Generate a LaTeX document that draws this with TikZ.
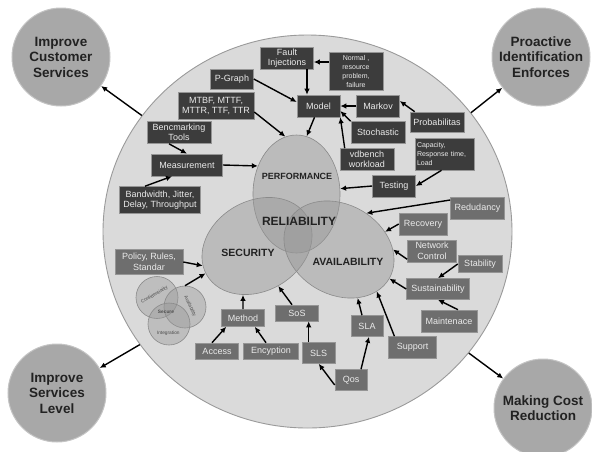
\documentclass[tikz,border=0pt]{standalone}
\usepackage{fontspec}
\setmainfont{Liberation Sans}
\usetikzlibrary{arrows.meta,shapes.geometric}
\definecolor{bgfill}{HTML}{DADADA}
\definecolor{bgedge}{HTML}{9A9A9A}
\definecolor{cornerfill}{HTML}{A8A8A8}
\definecolor{corneredge}{HTML}{C4C4C4}
\definecolor{vennfill}{HTML}{969696}
\definecolor{vennedge}{HTML}{8A8A8A}
\definecolor{darkbox}{HTML}{3C3C3C}
\definecolor{midbox}{HTML}{6E6E6E}
\definecolor{boxedge}{HTML}{959595}
\definecolor{boxtext}{HTML}{EBEBEB}
\definecolor{labeltext}{HTML}{222222}
\begin{document}
\begin{tikzpicture}[x=1pt,y=-1pt,
  corner/.style={circle,minimum size=98pt,inner sep=0pt,fill=cornerfill,draw=corneredge,line width=1pt,
     text=labeltext,align=center,font=\fontsize{13.5}{15.5}\selectfont\bfseries},
  vennell/.style={ellipse,inner sep=0pt,fill=vennfill,fill opacity=0.45,draw=vennedge,line width=0.6pt},
  smallvenn/.style={circle,minimum size=42pt,inner sep=0pt,fill=vennfill,fill opacity=0.4,draw=vennedge,line width=0.6pt},
  vlabel/.style={text=labeltext,font=\fontsize{#1}{#1}\selectfont\bfseries,inner sep=0pt},
  tinylabel/.style={text=labeltext!80,font=\fontsize{4.8}{4.8}\selectfont,inner sep=0pt},
  dbox/.style={draw=boxedge,line width=0.6pt,fill=darkbox,text=boxtext,inner sep=0pt,align=center,
     font=\fontsize{9}{10.5}\selectfont},
  mbox/.style={dbox,fill=midbox},
  smalltext/.style={font=\fontsize{7}{9}\selectfont},
  arr/.style={draw=black,line width=1.4pt,-{Latex[length=6pt,width=5.5pt]}}
]
\useasboundingbox (0,0) rectangle (592,451);

% big circle
\node[ellipse,minimum width=409pt,minimum height=393pt,inner sep=0pt,fill=bgfill,draw=bgedge,line width=0.9pt] (big) at (307.5,231.5) {};

% corner circles
\node[corner] (ics) at (61,57) {Improve\\Customer\\Services};
\node[corner] (pie) at (541,57) {Proactive\\Identification\\Enforces};
\node[corner] (isl) at (57,393) {Improve\\Services\\Level};
\node[corner] (mcr) at (543,408) {Making Cost\\Reduction};

% venn ellipses
\node[vennell,minimum width=87pt,minimum height=118pt] (perf) at (296.5,194) {};
\node[vennell,minimum width=116pt,minimum height=90pt,rotate=30] (sec) at (257,246) {};
\node[vennell,minimum width=116pt,minimum height=90pt,rotate=-30] (avail) at (339,249.5) {};

\node[vlabel=9] (lperf) at (297,176) {PERFORMANCE};
\node[vlabel=12] (lrel) at (299,221) {RELIABILITY};
\node[vlabel=10.5] (lsec) at (248,253) {SECURITY};
\node[vlabel=10.5] (lavail) at (348,262) {AVAILABILITY};

% small venn (secure)
\node[smallvenn] (cconf) at (157,297.5) {};
\node[smallvenn] (cavail) at (185,307) {};
\node[smallvenn] (cint) at (169,324) {};
\node[tinylabel,rotate=30] (tconf) at (154.5,295) {Confidentiality};
\node[tinylabel,rotate=-65] (tavail) at (190,306) {Availability};
\node[tinylabel,font=\fontsize{4.8}{4.8}\selectfont\bfseries] (tsecure) at (166,311.5) {Secure};
\node[tinylabel] (tint) at (168.3,333) {Integration};

% dark boxes
\node[dbox,minimum width=53pt,minimum height=22pt] (fault) at (287,58) {Fault\\Injections};
\node[dbox,smalltext,minimum width=54pt,minimum height=38pt] (normal) at (356,71) {Normal ,\\resource\\problem,\\failure};
\node[dbox,minimum width=43pt,minimum height=20pt] (pgraph) at (232,79) {P-Graph};
\node[dbox,minimum width=76pt,minimum height=27pt] (mtbf) at (216,106) {MTBF, MTTF,\\MTTR, TTF, TTR};
\node[dbox,minimum width=43pt,minimum height=22pt] (model) at (318.5,106) {Model};
\node[dbox,minimum width=43pt,minimum height=22pt] (markov) at (378,106) {Markov};
\node[dbox,minimum width=54pt,minimum height=20pt] (prob) at (437,122) {Probabilitas};
\node[dbox,minimum width=54pt,minimum height=22pt] (stoch) at (378,132.5) {Stochastic};
\node[dbox,minimum width=54pt,minimum height=22pt] (vdb) at (367,159.5) {vdbench\\workload};
\node[dbox,smalltext,align=left,minimum width=59pt,minimum height=32pt,text width=55pt] (cap) at (444.5,154) {Capacity,\\Response time,\\Load};
\node[dbox,minimum width=43pt,minimum height=22pt] (testing) at (394,186) {Testing};
\node[dbox,minimum width=64pt,minimum height=22pt] (bench) at (179,132.5) {Bencmarking\\Tools};
\node[dbox,minimum width=71pt,minimum height=22pt] (meas) at (187,165) {Measurement};
\node[dbox,minimum width=81pt,minimum height=27pt] (bw) at (160,200) {Bandwidth, Jitter,\\Delay, Throughput};

% medium boxes
\node[mbox,minimum width=54pt,minimum height=22pt] (redu) at (477.5,208) {Redudancy};
\node[mbox,minimum width=48pt,minimum height=22pt] (recov) at (423,224) {Recovery};
\node[mbox,minimum width=49pt,minimum height=22pt] (netw) at (432,251) {Network\\Control};
\node[mbox,minimum width=44pt,minimum height=17pt] (stab) at (480,264) {Stability};
\node[mbox,minimum width=63pt,minimum height=21pt] (sust) at (438,289) {Sustainability};
\node[mbox,minimum width=56pt,minimum height=22pt] (maint) at (449,321) {Maintenace};
\node[mbox,minimum width=48pt,minimum height=22pt] (support) at (412.7,347.5) {Support};
\node[mbox,minimum width=32pt,minimum height=21pt] (sla) at (367,326) {SLA};
\node[mbox,minimum width=32pt,minimum height=21pt] (qos) at (351,380) {Qos};
\node[mbox,minimum width=33pt,minimum height=21pt] (sls) at (318.7,353) {SLS};
\node[mbox,minimum width=43pt,minimum height=16pt] (sos) at (297,313) {SoS};
\node[mbox,minimum width=43pt,minimum height=17pt] (method) at (243,318) {Method};
\node[mbox,minimum width=43pt,minimum height=16pt] (access) at (217,351) {Access};
\node[mbox,minimum width=55pt,minimum height=16pt] (enc) at (271,351) {Encyption};
\node[mbox,minimum width=68pt,minimum height=25pt] (policy) at (149,262) {Policy, Rules,\\Standar};

% connectors: performance side
\draw[arr] ([yshift=-4pt]fault.east -| normal.west) -- ([yshift=-4pt]fault.east);
\draw[arr] ([xshift=20pt]fault.south) -- ([xshift=20pt]fault.south |- model.north);
\draw[arr] (pgraph.east) -- ([yshift=4pt]model.west);
\draw[arr] ([yshift=-6pt]mtbf.east) -- (perf.101);
\draw[arr] ([xshift=-4pt]model.south) -- (perf.80);
\draw[arr] (markov.west) -- (model.east);
\draw[arr] ([xshift=5pt]prob.north west) -- ([yshift=5pt]markov.east);
\draw[arr] (stoch.north west) -- ([yshift=-5pt]model.east);
\draw[arr] ([xshift=5pt]vdb.north west) -- (model.south east);
\draw[arr] ([xshift=-3pt]cap.south) -- (testing.east);
\draw[arr] (testing.west) -- (perf.7);
\draw[arr] ([xshift=-10pt]bench.south) -- (meas.north);
\draw[arr] ([xshift=-15pt]bw.north) -- ([xshift=-15pt]meas.south);
\draw[arr] (meas.east) -- (perf.144);

% availability side
\draw[arr] ([yshift=8pt]redu.west) -- (avail.83);
\draw[arr] (recov.west) -- (avail.51);
\draw[arr] ([yshift=3pt]netw.south west) -- (avail.30);
\draw[arr] (stab.west) -- (sust.north);
\draw[arr] (sust.west) -- (avail.0);
\draw[arr] ([xshift=9pt]maint.north) -- (sust.south);
\draw[arr] ([xshift=6pt]support.north west) -- (avail.-18);
\draw[arr] ([xshift=-5pt]sla.north) -- (avail.-39);
\draw[arr] ([xshift=10pt]qos.north) -- ([xshift=2pt]sla.south);
\draw[arr] ([yshift=-5pt]qos.west) -- (sls.south);

% security side
\draw[arr] ([xshift=-10pt]sls.north) -- ([xshift=-10pt]sls.north |- sos.south);
\draw[arr] ([xshift=-5pt]sos.north) -- (sec.-92);
\draw[arr] (method.north) -- (sec.-136);
\draw[arr] ([xshift=-5pt]access.north) -- ([xshift=5pt]method.south west);
\draw[arr] ([xshift=-5pt]enc.north) -- ([xshift=-10pt]method.south east);
\draw[arr] (policy.east) -- (sec.170);
\draw[arr] (cavail.north) -- (sec.178);

% to the corners
\draw[arr] (big.145) -- (ics);
\draw[arr] (big.36) -- (pie);
\draw[arr] (big.-146) -- (isl);
\draw[arr] (big.-37) -- (mcr);
\end{tikzpicture}
\end{document}
